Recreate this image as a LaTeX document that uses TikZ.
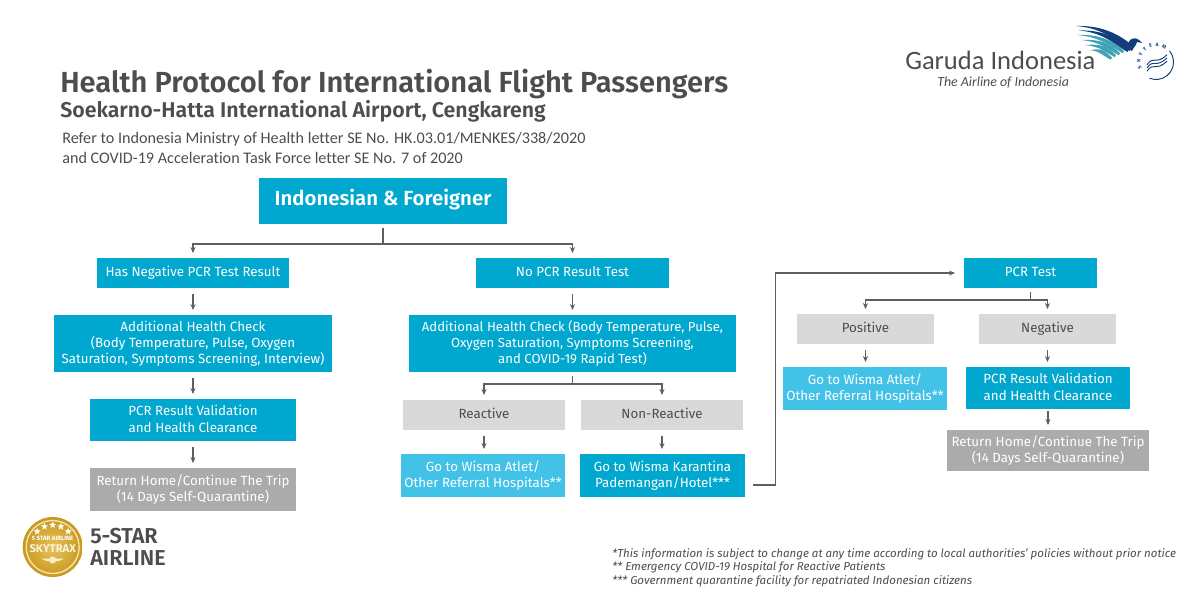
\documentclass[tikz,border=0pt]{standalone}
\usepackage{fontspec}
\setmainfont{Fira Sans}
\newfontfamily\titlefont{Fira Sans}[UprightFont=*,BoldFont=* SemiBold]
\newfontfamily\logofont{Carlito}
\newfontfamily\reffont{Carlito}[Ligatures=NoCommon]
\usetikzlibrary{arrows.meta,decorations.text,shapes.geometric}
\definecolor{mainblue}{HTML}{00A7CE}
\definecolor{lightblue}{HTML}{43C2E8}
\definecolor{lightgray}{HTML}{D9D9D9}
\definecolor{midgray}{HTML}{ABABAB}
\definecolor{ink}{HTML}{4D4D4F}
\definecolor{line}{HTML}{5F5F5F}
\definecolor{gold}{HTML}{C9981F}
\definecolor{palegold}{HTML}{E6C35A}
\definecolor{navy}{HTML}{123E7C}
\definecolor{teal}{HTML}{3FA3B5}
\tikzset{
  boxbase/.style={inner sep=0pt,align=center,font=\fontsize{10}{12.1}\selectfont},
  bluebox/.style={boxbase,fill=mainblue,text=white},
  lightbox/.style={boxbase,fill=lightblue,text=white},
  graybox/.style={boxbase,fill=lightgray,text=ink},
  exitbox/.style={boxbase,fill=midgray,text=white},
  conn/.style={draw=line,line width=0.9pt,-{Stealth[length=4.5pt,width=3.8pt]},shorten >=3.5pt,shorten <=4.5pt},
  trunk/.style={draw=line,line width=0.9pt,shorten <=3pt},
  plain/.style={inner sep=0pt,anchor=base west,text=ink},
}
\newcommand{\bx}[7]{\node[#6,minimum width={(#4-#2)*0.75pt},minimum height={(#5-#3)*0.75pt}] (#1) at ({(#2+#4)/2},{(#3+#5)/2}) {\rule{0pt}{9.6pt}#7\strut};}
\newcommand{\stripe}[6]{\fill[#1] (#2,#3) .. controls ({#2+0.5*(#4-#2)},{#3-1}) and ({#4-11},{#5-10}) .. (#4,#5) -- ({#4-#6*0.5},{#5+#6}) .. controls ({#4-14},{#5-7+#6}) and ({#2+0.5*(#4-#2)},{#3+2}) .. (#2,#3) -- cycle;}
\begin{document}
\begin{tikzpicture}[x=0.75pt,y=-0.75pt]
\useasboundingbox (0,0) rectangle (1200,600);
% heading
\node[plain,font=\titlefont\bfseries\fontsize{21.8}{24}\selectfont] (title) at (60,92) {Health Protocol for International Flight Passengers};
\node[plain,font=\titlefont\bfseries\fontsize{16}{18}\selectfont] (subtitle) at (60,117) {Soekarno-Hatta International Airport, Cengkareng};
\node[plain,font=\reffont\fontsize{12.13}{14}\selectfont] (ref1) at (62,143.5) {Refer to Indonesia Ministry of Health letter SE No. HK.03.01/MENKES/338/2020};
\node[plain,font=\reffont\fontsize{12.13}{14}\selectfont] (ref2) at (62,163) {and COVID-19 Acceleration Task Force letter SE No. 7 of 2020};
% boxes
\bx{top}{259}{178}{507}{224}{bluebox,font=\titlefont\bfseries\fontsize{15.3}{18}\selectfont}{Indonesian \& Foreigner}
\bx{neg}{97}{258}{289}{288}{bluebox}{Has Negative PCR Test Result}
\bx{nopcr}{476}{258}{669}{288}{bluebox}{No PCR Result Test}
\bx{pcr}{964}{258}{1097}{288}{bluebox}{PCR Test}
\bx{checka}{54}{315}{332}{372}{bluebox}{Additional Health Check\\(Body Temperature, Pulse, Oxygen\\Saturation, Symptoms Screening, Interview)}
\bx{checkb}{409}{315}{736}{372}{bluebox,font=\fontsize{9.85}{12.1}\selectfont}{Additional Health Check (Body Temperature, Pulse,\\Oxygen Saturation, Symptoms Screening,\\and COVID-19 Rapid Test)}
\bx{vala}{90}{399}{296}{441}{bluebox}{PCR Result Validation\\and Health Clearance}
\bx{reta}{90}{468}{296}{511}{exitbox}{Return Home/Continue The Trip\\(14 Days Self-Quarantine)}
\bx{reactive}{403}{400}{565}{430}{graybox}{Reactive}
\bx{nonreactive}{581}{400}{743}{430}{graybox}{Non-Reactive}
\bx{wismaa}{401}{454}{565}{497}{lightbox}{Go to Wisma Atlet/\\Other Referral Hospitals**}
\bx{karantina}{580}{454}{745}{497}{bluebox}{Go to Wisma Karantina\\Pademangan/Hotel***}
\bx{positive}{797}{314}{934}{344}{graybox}{Positive}
\bx{negative}{979}{314}{1116}{344}{graybox}{Negative}
\bx{wismab}{783}{367}{947}{410}{lightbox}{Go to Wisma Atlet/\\Other Referral Hospitals**}
\bx{valb}{966}{367}{1130}{409}{bluebox}{PCR Result Validation\\and Health Clearance}
\bx{retb}{947}{430}{1149}{471}{exitbox}{Return Home/Continue The Trip\\(14 Days Self-Quarantine)}
% connectors
\coordinate (j1) at (top.south |- 0,244);
\draw[trunk] (top.south) -- (j1);
\draw[conn,shorten <=0pt] (j1) -| (neg.north);
\draw[conn,shorten <=0pt] (j1) -| (nopcr.north);
\draw[conn] (neg) -- (checka);
\draw[conn] (nopcr) -- (checkb);
\draw[conn] (checka.south -| vala.north) -- (vala.north);
\draw[conn] (vala) -- (reta);
\coordinate (j2) at (checkb.south |- 0,384);
\draw[trunk] (checkb.south) -- (j2);
\draw[conn,shorten <=0pt] (j2) -| (reactive.north);
\draw[conn,shorten <=0pt] (j2) -| (nonreactive.north);
\draw[conn] (reactive.south) -- (wismaa.north -| reactive.south);
\draw[conn] (nonreactive.south) -- (karantina.north -| nonreactive.south);
\coordinate (j3) at (pcr.south |- 0,300);
\draw[trunk] (pcr.south) -- (j3);
\draw[conn,shorten <=0pt] (j3) -| (positive.north);
\draw[conn,shorten <=0pt] (j3) -| (negative.north);
\draw[conn] (positive.south) -- (wismab.north -| positive.south);
\draw[conn] (negative.south) -- (valb.north -| negative.south);
\draw[conn,shorten <=1.5pt] (valb) -- (retb);
\coordinate (j4) at (775.5,485);
\draw[conn,shorten >=6.5pt,shorten <=6pt] (karantina.east |- j4) -- (j4) |- (pcr.west);
% footnotes
\node[plain,font=\itshape\fontsize{8.63}{10}\selectfont] (fn1) at (612,557) {*This information is subject to change at any time according to local authorities' policies without prior notice};
\node[plain,font=\itshape\fontsize{8.63}{10}\selectfont] (fn2) at (612,570) {** Emergency COVID-19 Hospital for Reactive Patients};
\node[plain,font=\itshape\fontsize{8.63}{10}\selectfont] (fn3) at (612,584) {*** Government quarantine facility for repatriated Indonesian citizens};
% Garuda logo
\node[plain,font=\logofont\fontsize{19.9}{22}\selectfont] (gi) at (905,69) {Garuda Indonesia};
\node[plain,font=\logofont\itshape\fontsize{10.4}{12}\selectfont] (gis) at (937,86) {The Airline of Indonesia};
\stripe{navy}{1076}{26}{1134}{47}{4}
\stripe{navy}{1079}{30.5}{1129}{49}{3}
\stripe{teal}{1077}{35}{1124}{51}{2.2}
\stripe{teal}{1081}{40}{1120}{53}{2.2}
\stripe{teal}{1085}{45}{1116}{55}{2.2}
\stripe{teal}{1090}{50}{1112}{57.5}{2.2}
\fill[navy] (1126,47) -- (1130,40) .. controls (1133,37.5) and (1137,38) .. (1139,40) -- (1142,43) -- (1137,42) .. controls (1136,46) and (1133,49) .. (1129,51) -- cycle;
% SkyTeam mark
\coordinate (st) at (1156,62);
\draw[navy,line width=0.7pt] ([shift={(-40:17.5)}]st) arc (-40:112:17.5);
\foreach \dy in {-3.2,0,3.2} {
  \draw[navy,line width=0.7pt] (1147,{68+\dy}) .. controls (1154,{58+\dy}) and (1155,{69+\dy}) .. (1167,{58+\dy});
}
\path[decorate,decoration={text along path,text align={fit to path},text={|\fontsize{3.8}{5}\bfseries\selectfont\color{navy}|SKYTEAM}}] ([shift={(155:15.5)}]st) arc (155:306:15.5);
% Skytrax badge
\shade[inner color=palegold,outer color=gold] (52.7,547) circle (30);
\draw[white!55!palegold,line width=1pt] (52.7,547) circle (26.5);
\foreach \a in {-45,-22,0,22,45} {
  \node[star,star points=5,star point ratio=2.3,fill=white,inner sep=0pt,minimum size=5.5pt] (s\a) at ({52.7+22*sin(\a)},{547-22*cos(\a)}) {};
}
\node[inner sep=0pt,text=white,font=\bfseries\fontsize{4.6}{6}\selectfont] (b1) at (52.7,538.5) {5 STAR AIRLINE};
\node[inner sep=0pt,text=white!80!palegold,font=\bfseries\fontsize{8.4}{9}\selectfont] (b2) at (52.7,549) {SKYTRAX};
\fill[white!70!palegold] (52.7,560) circle (3.5);
\fill[white!70!palegold] (41,558.5) -- (64.5,558.5) -- (59,561) -- (46.5,561) -- cycle;
\node[plain,font=\titlefont\bfseries\fontsize{16.2}{18}\selectfont] (star1) at (90,543.5) {5-STAR};
\node[plain,font=\titlefont\bfseries\fontsize{16.2}{18}\selectfont] (star2) at (90,565.5) {AIRLINE};
\end{tikzpicture}
\end{document}
